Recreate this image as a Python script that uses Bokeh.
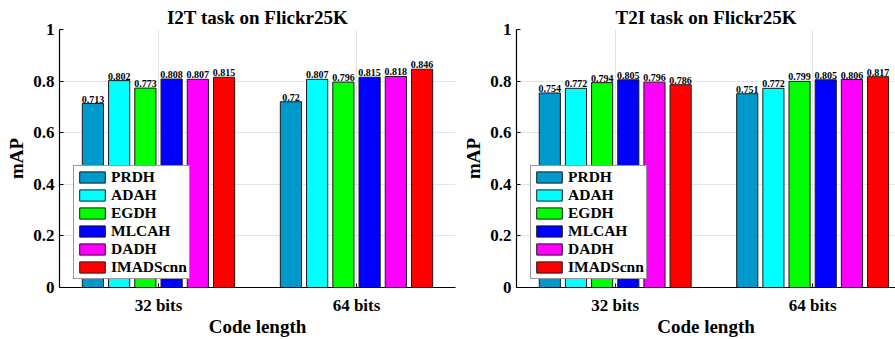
from bokeh.plotting import figure
from bokeh.models import ColumnDataSource, Range1d, FixedTicker
from bokeh.layouts import row
from bokeh.transform import dodge
from bokeh.core.properties import value
from bokeh.embed import file_html
from bokeh.resources import INLINE

categories = ["32 bits", "64 bits"]
methods = ["PRDH", "ADAH", "EGDH", "MLCAH", "DADH", "IMADScnn"]
colors = ["#0099CC", "#00FFFF", "#00FF00", "#0000FF", "#FF00FF", "#FF0000"]
i2t_32 = [0.713, 0.802, 0.773, 0.808, 0.807, 0.815]
i2t_64 = [0.72, 0.807, 0.796, 0.815, 0.818, 0.846]
t2i_32 = [0.754, 0.772, 0.794, 0.805, 0.796, 0.786]
t2i_64 = [0.751, 0.772, 0.799, 0.805, 0.806, 0.817]
y_ticks = [0, 0.2, 0.4, 0.6, 0.8, 1]
y_tick_labels = ["0", "0.2", "0.4", "0.6", "0.8", "1"]

FONT = "Liberation Serif"
QFONT = "'Liberation Serif', serif"
PITCH = 0.1325
BAR_W = 0.107


def make_panel(title, v32, v64, width, border_left, border_right, x_end):
    p = figure(width=width, height=339, x_range=Range1d(0.5, x_end), y_range=Range1d(0, 1),
               output_backend="svg", toolbar_location=None,
               min_border_left=border_left, min_border_right=border_right,
               min_border_top=29, min_border_bottom=51)
    p.title.text = title
    p.title.text_font = QFONT
    p.title.text_font_style = "bold"
    p.title.text_font_size = "19px"
    p.title.text_color = "black"
    p.title.align = "center"
    p.title.standoff = 3
    p.outline_line_color = None
    p.background_fill_color = "white"
    p.border_fill_color = "white"

    xs = [i + 1 for i in range(len(categories))]
    for i, (m, c) in enumerate(zip(methods, colors)):
        tops = [v32[i], v64[i]]
        src = ColumnDataSource(dict(x=xs, top=tops, label=[str(t) for t in tops]))
        off = (i - (len(methods) - 1) / 2) * PITCH
        p.vbar(x=dodge("x", off), top="top", width=BAR_W, source=src,
               fill_color=c, line_color="#1a1a1a", line_width=1, legend_label=m)
        p.text(x=dodge("x", off), y="top", text="label", source=src,
               text_align="center", text_baseline="bottom", y_offset=-1,
               text_font=value(FONT), text_font_style="bold", text_font_size="10px",
               text_color="black")

    p.xaxis.ticker = FixedTicker(ticks=xs)
    p.xaxis.major_label_overrides = {x: c for x, c in zip(xs, categories)}
    p.yaxis.ticker = FixedTicker(ticks=y_ticks)
    p.yaxis.major_label_overrides = {t: l for t, l in zip(y_ticks, y_tick_labels)}
    p.xgrid.ticker = FixedTicker(ticks=xs)
    p.ygrid.ticker = FixedTicker(ticks=y_ticks)
    for g in (p.xgrid, p.ygrid):
        g.grid_line_color = "#e4e4e4"
        g.grid_line_width = 1

    p.xaxis.axis_label = "Code length"
    p.yaxis.axis_label = "mAP"
    for ax in (p.xaxis, p.yaxis):
        ax.axis_line_color = "black"
        ax.axis_line_width = 1.2
        ax.major_tick_in = 4
        ax.major_tick_out = 0
        ax.minor_tick_line_color = None
        ax.major_tick_line_color = "black"
        ax.major_label_text_font = QFONT
        ax.major_label_text_font_style = "bold"
        ax.major_label_text_font_size = "17px"
        ax.major_label_text_color = "black"
        ax.axis_label_text_font = FONT
        ax.axis_label_text_font_style = "bold"
        ax.axis_label_text_font_size = "19px"
        ax.axis_label_text_color = "black"
    p.xaxis.major_label_standoff = 8
    p.xaxis.axis_label_standoff = -2
    p.yaxis.major_label_standoff = 5
    p.yaxis.axis_label_standoff = 3

    lg = p.legend[0]
    lg.location = (14, 8)
    lg.label_text_font = FONT
    lg.label_text_font_style = "bold"
    lg.label_text_font_size = "15.5px"
    lg.label_text_color = "black"
    lg.glyph_width = 32
    lg.glyph_height = 14
    lg.label_height = 17
    lg.label_standoff = 3
    lg.spacing = 0
    lg.padding = 2
    lg.margin = 0
    lg.border_line_color = "#333333"
    lg.border_line_width = 1
    lg.background_fill_color = "white"
    lg.background_fill_alpha = 1
    return p


left = make_panel("I2T task on Flickr25K", i2t_32, i2t_64, 460, 59, 5, 2.5)
right = make_panel("T2I task on Flickr25K", t2i_32, t2i_64, 435, 53, 0, 0.5 + 382 / 199)

layout = row(left, right, spacing=0)
open("out.html", "w").write(file_html(layout, INLINE))
